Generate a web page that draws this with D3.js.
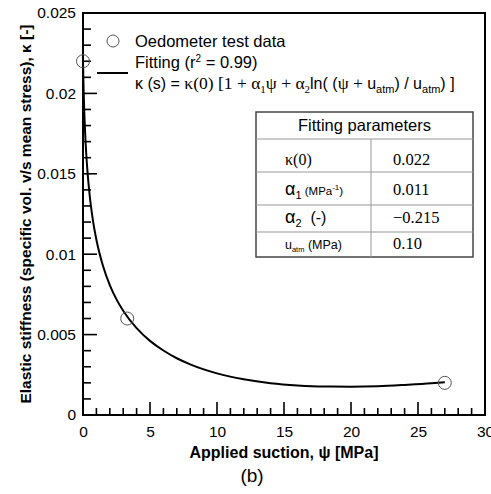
<!DOCTYPE html>
<html><head><meta charset="utf-8">
<script src="https://cdn.jsdelivr.net/npm/d3@7"></script>
<style>
html,body{margin:0;padding:0;background:#fff;}
svg{display:block;}
text{font-family:"Liberation Sans",Arial,sans-serif;fill:#000;}
</style></head>
<body>
<script>
// ---- data ----
const dataSuction = [0, 3.3, 27];
const dataKappa = [0.022, 0.006, 0.002];
const fitSuction = [0, 0.05, 0.1, 0.2, 0.3, 0.5, 0.75, 1, 1.5, 2, 2.5, 3, 4, 5, 6, 7, 8, 10, 12, 14, 16, 18, 20, 22, 24, 26, 27];
const fitKappa = [0.0220, 0.02009, 0.01875, 0.01685, 0.01552, 0.01365, 0.01206, 0.01090, 0.00925, 0.00808, 0.00719, 0.00648, 0.00540, 0.00461, 0.00401, 0.00353, 0.00315, 0.00259, 0.00222, 0.00198, 0.00184, 0.00177, 0.00176, 0.00179, 0.00187, 0.00197, 0.00204];
const xTicks = [0, 5, 10, 15, 20, 25, 30];
const yTicks = [0, 0.005, 0.01, 0.015, 0.02, 0.025];
const yTickLabels = ["0", "0.005", "0.01", "0.015", "0.02", "0.025"];
const paramValues = ["0.022", "0.011", "\u22120.215", "0.10"];

const W = 491, H = 494;
const svg = d3.select("body").append("svg").attr("width", W).attr("height", H);
const L = 83, R = 485, T = 13, B = 415;
const x = d3.scaleLinear().domain([0, 30]).range([L, R]);
const y = d3.scaleLinear().domain([0, 0.025]).range([B, T]);
const SANS = '"Liberation Sans",Arial,sans-serif';
const SERIF = '"Liberation Serif","Times New Roman",serif';

// minor + major ticks (inward)
const g = svg.append("g");
const xMinor = d3.range(0, 31, 1);
const yMinor = d3.range(0, 26, 1).map(i => i * 0.001);
g.selectAll(".xm").data(xMinor).enter().append("line")
  .attr("x1", d => x(d)).attr("x2", d => x(d))
  .attr("y1", B).attr("y2", d => (d % 5 === 0) ? B - 13 : B - 7)
  .attr("stroke", "#000").attr("stroke-width", 1.6);
g.selectAll(".ym").data(yMinor).enter().append("line")
  .attr("y1", d => y(d)).attr("y2", d => y(d))
  .attr("x1", L).attr("x2", (d, i) => (i % 5 === 0) ? L + 14 : L + 8)
  .attr("stroke", "#000").attr("stroke-width", 1.6);

// frame
svg.append("rect").attr("x", L).attr("y", T).attr("width", R - L).attr("height", B - T)
  .attr("fill", "none").attr("stroke", "#000").attr("stroke-width", 2);

// tick labels via d3 axis
const xAxis = svg.append("g").attr("transform", `translate(0,${B})`)
  .call(d3.axisBottom(x).tickValues(xTicks).tickSize(0).tickPadding(11).tickFormat(d3.format("d")));
xAxis.select(".domain").remove();
xAxis.selectAll("text").style("font-size", "15.5px").style("font-family", SANS);

const yAxis = svg.append("g").attr("transform", `translate(${L},0)`)
  .call(d3.axisLeft(y).tickValues(yTicks).tickSize(0).tickPadding(7).tickFormat((d, i) => yTickLabels[i]));
yAxis.select(".domain").remove();
yAxis.selectAll("text").style("font-size", "15.5px").style("font-family", SANS);

// axis titles
svg.append("text").attr("x", (L + R) / 2).attr("y", 458).attr("text-anchor", "middle")
  .style("font-size", "16px").style("font-weight", "bold")
  .text("Applied suction, \u03C8 [MPa]");
svg.append("text").attr("transform", `translate(31,${(T + B) / 2}) rotate(-90)`)
  .attr("text-anchor", "middle").style("font-size", "15.5px").style("font-weight", "bold")
  .text("Elastic stiffness (specific vol. v/s mean stress), \u03BA [-]");
svg.append("text").attr("x", 252).attr("y", 482).attr("text-anchor", "middle")
  .style("font-size", "19px").text("(b)");

// fitted curve
const fitPts = fitSuction.map((s, i) => [s, fitKappa[i]]);
svg.append("path").datum(fitPts)
  .attr("d", d3.line().x(d => x(d[0])).y(d => y(d[1])).curve(d3.curveMonotoneX))
  .attr("fill", "none").attr("stroke", "#000").attr("stroke-width", 2);

// data points
svg.selectAll(".pt").data(dataSuction.map((s, i) => [s, dataKappa[i]])).enter().append("circle")
  .attr("cx", d => x(d[0])).attr("cy", d => y(d[1])).attr("r", 6.5)
  .attr("fill", "none").attr("stroke", "#555").attr("stroke-width", 1);

// legend
svg.append("circle").attr("cx", 113).attr("cy", 41).attr("r", 6).attr("fill", "none").attr("stroke", "#555").attr("stroke-width", 1);
svg.append("text").attr("x", 135).attr("y", 47).style("font-size", "16.5px").text("Oedometer test data");
svg.append("text").attr("x", 135).attr("y", 68).style("font-size", "16.5px")
  .html('Fitting (r<tspan dy="-6" font-size="10">2</tspan><tspan dy="6"> = 0.99)</tspan>');
svg.append("line").attr("x1", 97).attr("x2", 128).attr("y1", 73).attr("y2", 73).attr("stroke", "#000").attr("stroke-width", 2);
const f = svg.append("text").attr("x", 135).attr("y", 89).style("font-size", "16px");
const parts = [
  ["\u03BA (s) =  ", SANS, 0, null],
  ["\u03BA(0) [1 + \u03B1", SERIF, 0, 17.5],
  ["1", SERIF, 4, 11],
  ["\u03C8 + \u03B1", SERIF, -4, 17.5],
  ["2", SERIF, 4, 11],
  ["ln( (", SANS, -4, 16],
  ["\u03C8 + ", SERIF, 0, 17.5],
  ["u", SANS, 0, 16],
  ["atm", SANS, 4, 11],
  [") / u", SANS, -4, 16],
  ["atm", SANS, 4, 11],
  [") ]", SANS, -4, 16]
];
parts.forEach(p => {
  const t = f.append("tspan").text(p[0]).style("font-family", p[1]);
  if (p[2]) t.attr("dy", p[2]);
  if (p[3]) t.style("font-size", p[3] + "px");
});

// table
const tb = svg.append("g");
const tL = 256, tR = 473, tT = 112, tB = 257, tMid = 371;
const rowLines = [139, 172, 205, 232];
tb.append("rect").attr("x", tL).attr("y", tT).attr("width", tR - tL).attr("height", tB - tT)
  .attr("fill", "#fff").attr("stroke", "#444").attr("stroke-width", 1.5);
tb.selectAll(".rl").data(rowLines).enter().append("line")
  .attr("x1", tL).attr("x2", tR).attr("y1", d => d).attr("y2", d => d)
  .attr("stroke", "#999").attr("stroke-width", 1);
tb.append("line").attr("x1", tMid).attr("x2", tMid).attr("y1", rowLines[0]).attr("y2", tB)
  .attr("stroke", "#999").attr("stroke-width", 1);
tb.append("text").attr("x", (tL + tR) / 2).attr("y", 131).attr("text-anchor", "middle")
  .style("font-size", "16.5px").text("Fitting parameters");
const rowY = [165, 195, 223, 249];
tb.append("text").attr("x", 285).attr("y", rowY[0]).style("font-size", "16px").style("font-family", SERIF).text("\u03BA(0)");
tb.append("text").attr("x", 285).attr("y", rowY[1]).style("font-size", "15px")
  .html(`<tspan style="font-family:${SERIF}" font-size="18">\u03B1</tspan><tspan dy="4" font-size="11" style="font-family:${SERIF}">1</tspan><tspan dy="-4" font-size="11.5"> (MPa</tspan><tspan dy="-5" font-size="8">-1</tspan><tspan dy="5" font-size="11.5">)</tspan>`);
tb.append("text").attr("x", 285).attr("y", rowY[2]).style("font-size", "16px")
  .html(`<tspan style="font-family:${SERIF}" font-size="18">\u03B1</tspan><tspan dy="4" font-size="11" style="font-family:${SERIF}">2</tspan><tspan dy="-4" xml:space="preserve">  (-)</tspan>`);
tb.append("text").attr("x", 285).attr("y", rowY[3]).style("font-size", "12.5px")
  .html(`u<tspan dy="3" font-size="7.5">atm</tspan><tspan dy="-3"> (MPa)</tspan>`);
tb.selectAll(".pv").data(paramValues).enter().append("text")
  .attr("x", 393).attr("y", (d, i) => rowY[i]).style("font-size", "16.5px").style("font-family", SERIF)
  .text(d => d);
</script>
</body></html>
